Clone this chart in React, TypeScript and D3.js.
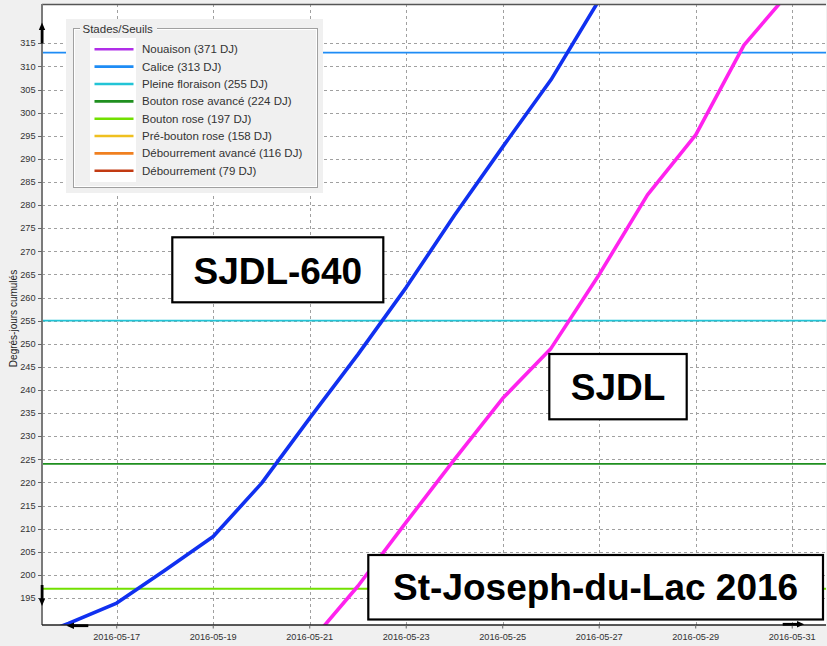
import React from "react";
import * as d3 from "d3";

// ---------- data ----------
const blueDates = ["2016-05-15","2016-05-16","2016-05-17","2016-05-18","2016-05-19","2016-05-20","2016-05-21","2016-05-22","2016-05-23","2016-05-24","2016-05-25","2016-05-26","2016-05-27"];
const sjdl640Values = [185.5, 189.5, 193.9, 201.0, 208.3, 219.8, 233.9, 247.7, 262.2, 277.8, 292.6, 307.1, 324.4];

const magentaDates = ["2016-05-21","2016-05-22","2016-05-23","2016-05-24","2016-05-25","2016-05-26","2016-05-27","2016-05-28","2016-05-29","2016-05-30","2016-05-31"];
const sjdlValues = [185.3, 197.6, 211.4, 225.0, 238.2, 249.0, 265.0, 282.2, 295.2, 314.6, 326.8];

const stageNames = ["Nouaison","Calice","Pleine floraison","Bouton rose avancé","Bouton rose","Pré-bouton rose","Débourrement avancé","Débourrement"];
const stageValues = [371, 313, 255, 224, 197, 158, 116, 79];
const stageColors = ["#b02ee8","#1e8cf5","#22c4d6","#1f8f1f","#72e000","#efc020","#f08020","#c23a12"];

const yTickValues = d3.range(195, 316, 5);
const xTickLabels = ["2016-05-17","2016-05-19","2016-05-21","2016-05-23","2016-05-25","2016-05-27","2016-05-29","2016-05-31"];

const yTitle = "Degrés-jours cumulés";
const legendTitle = "Stades/Seuils";

// ---------- layout ----------
const W = 827, H = 646;
const L = 42, R = 826, T = 4, B = 625;

const parse = d3.timeParse("%Y-%m-%d");
const day = 24 * 3600 * 1000;
const d17 = parse("2016-05-17")!.getTime();
const d31 = parse("2016-05-31")!.getTime();
const x = d3.scaleTime()
  .domain([new Date(d17 - 1.549 * day), new Date(d31 + 0.70 * day)])
  .range([L, R]);
const y = d3.scaleLinear().domain([189.16, 323.5]).range([B, T]);

const line = d3.line<[Date, number]>().x(d => x(d[0])).y(d => y(d[1]));

const bluePts: [Date, number][] = blueDates.map((d, i) => [parse(d)!, sjdl640Values[i]]);
const magPts: [Date, number][] = magentaDates.map((d, i) => [parse(d)!, sjdlValues[i]]);

const FONT = "'Liberation Sans', Arial, sans-serif";

function LabelBox({ x0, y0, w, h, text, base }: { x0: number; y0: number; w: number; h: number; text: string; base: number }) {
  return (
    <g>
      <rect x={x0} y={y0} width={w} height={h} fill="#fff" stroke="#000" strokeWidth={2.2} />
      <text x={x0 + w / 2} y={base} textAnchor="middle" fontFamily={FONT} fontWeight="bold" fontSize={37} fill="#000">{text}</text>
    </g>
  );
}

export default function App() {
  const thresholds = stageValues
    .map((v, i) => ({ v, c: stageColors[i] }))
    .filter(t => t.v >= y.domain()[0] && t.v <= y.domain()[1]);

  const legendY0 = 49.3, legendStep = 17.35;

  return (
    <div style={{ position: "fixed", left: 0, top: 0 }}>
      <svg width={W} height={H} style={{ display: "block" }}>
        <defs>
          <clipPath id="plot">
            <rect x={L} y={T} width={R - L} height={B - T} />
          </clipPath>
        </defs>
        <rect x={0} y={0} width={W} height={H} fill="#f0f0f0" />
        <rect x={L} y={T} width={R - L} height={B - T} fill="#fff" />

        {/* grid */}
        <g stroke="#a0a0a0" strokeWidth={1} strokeDasharray="3,3">
          {yTickValues.map(v => (
            <line key={"gy" + v} x1={L} x2={R} y1={Math.round(y(v)) + 0.5} y2={Math.round(y(v)) + 0.5} />
          ))}
          {xTickLabels.map(s => {
            const xx = Math.round(x(parse(s)!)) + 0.5;
            return <line key={"gx" + s} x1={xx} x2={xx} y1={T} y2={B} />;
          })}
        </g>

        {/* thresholds */}
        <g clipPath="url(#plot)">
          {thresholds.map(t => (
            <line key={"th" + t.v} x1={L} x2={R} y1={y(t.v)} y2={y(t.v)} stroke={t.c} strokeWidth={1.8} />
          ))}
          <path d={line(bluePts)!} fill="none" stroke="#1030f0" strokeWidth={3.6} strokeLinejoin="round" />
          <path d={line(magPts)!} fill="none" stroke="#ff22ee" strokeWidth={3.6} strokeLinejoin="round" />
        </g>

        {/* label boxes */}
        <LabelBox x0={172.3} y0={237.3} w={211} h={65} text="SJDL-640" base={283.5} />
        <LabelBox x0={549.3} y0={354} w={137.4} h={65.3} text="SJDL" base={400} />
        <LabelBox x0={368.3} y0={555} w={454.7} h={64.5} text="St-Joseph-du-Lac 2016" base={600} />

        {/* legend */}
        <g>
          <rect x={66} y={19} width={257} height={174} fill="#f0f0f0" />
          <rect x={73.5} y={28.5} width={244} height={159} fill="none" stroke="#a0a0a0" strokeWidth={1} />
          <rect x={74.5} y={29.5} width={242} height={157} fill="none" stroke="#ffffff" strokeWidth={1} />
          <rect x={80} y={22} width={77} height={14} fill="#f0f0f0" />
          <text x={82.5} y={33} fontFamily={FONT} fontSize={11.5} fill="#333">{legendTitle}</text>
          <rect x={90} y={38} width={46} height={144} fill="#fff" />
          {stageNames.map((n, i) => {
            const yy = legendY0 + i * legendStep;
            return (
              <g key={"lg" + i}>
                <line x1={94.5} x2={133.5} y1={yy} y2={yy} stroke={stageColors[i]} strokeWidth={2.6} />
                <text x={142} y={yy + 4} fontFamily={FONT} fontSize={11.5} fill="#333">{`${n} (${stageValues[i]} DJ)`}</text>
              </g>
            );
          })}
        </g>

        {/* axes */}
        <line x1={L} x2={R} y1={T + 0.5} y2={T + 0.5} stroke="#555" strokeWidth={1.3} />
        <line x1={L} x2={L} y1={T} y2={B} stroke="#7a7a7a" strokeWidth={2} />
        <line x1={L} x2={R} y1={B} y2={B} stroke="#222" strokeWidth={1.4} />
        {yTickValues.map(v => (
          <g key={"yt" + v}>
            <line x1={38} x2={L} y1={Math.round(y(v)) + 0.5} y2={Math.round(y(v)) + 0.5} stroke="#666" strokeWidth={1} />
            <text x={35.5} y={y(v) + 3.2} textAnchor="end" fontFamily={FONT} fontSize={9.2} fill="#333">{v}</text>
          </g>
        ))}
        {xTickLabels.map(s => {
          const xx = x(parse(s)!);
          return (
            <g key={"xt" + s}>
              <line x1={xx} x2={xx} y1={B} y2={B + 3.5} stroke="#666" strokeWidth={1} />
              <text x={xx} y={640} textAnchor="middle" fontFamily={FONT} fontSize={9.2} fill="#333">{s}</text>
            </g>
          );
        })}
        <text transform={`translate(16.5, ${(T + B) / 2 + 4}) rotate(-90)`} textAnchor="middle" fontFamily={FONT} fontSize={10} fill="#222">{yTitle}</text>

        {/* scroll arrows */}
        <g fill="#000">
          <rect x={40.7} y={29} width={2.8} height={14.5} />
          <path d="M42,22.5 L38.8,30 L45.2,30 Z" />
          <rect x={40.7} y={585} width={2.8} height={14} />
          <path d="M42,606 L38.8,598.5 L45.2,598.5 Z" />
          <rect x={73} y={624.3} width={15.3} height={2.8} />
          <path d="M66.5,625.7 L74,622.5 L74,628.9 Z" />
          <rect x={782.7} y={622.9} width={15} height={2.8} />
          <path d="M804.2,624.3 L797,621.1 L797,627.5 Z" />
        </g>
      </svg>
    </div>
  );
}
